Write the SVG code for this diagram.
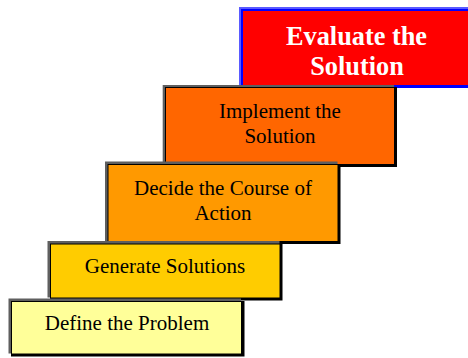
<svg xmlns="http://www.w3.org/2000/svg" width="468" height="358" viewBox="0 0 468 358">
  <style>
    .hl { fill: #5f5f5f; }
    .sh { fill: #000000; }
    .lbl { font-family: "Liberation Serif", "Times New Roman", serif; font-size: 21px; fill: #000000; text-anchor: middle; }
    .top-hl { fill: #5a5aff; }
    .top-sh { fill: #0000ff; }
    .top-lbl { font-family: "Liberation Serif", "Times New Roman", serif; font-size: 26.3px; font-weight: bold; fill: #ffffff; text-anchor: middle; }
  </style>
  <rect width="468" height="358" fill="#ffffff"/>

  <!-- top step, drawn first so the lower steps overlap its edge -->
  <g id="step-evaluate">
    <rect class="top-hl" x="239" y="7" width="232" height="78"/>
    <rect class="top-sh" x="241" y="9" width="232" height="79"/>
    <rect x="243" y="11" width="230" height="74" fill="#ff0000"/>
    <text class="top-lbl" x="356.5" y="45">Evaluate the</text>
    <text class="top-lbl" x="357" y="75">Solution</text>
  </g>

  <g id="step-implement">
    <rect class="hl" x="162.7" y="85" width="231.3" height="79"/>
    <rect class="sh" x="165" y="87" width="232" height="80"/>
    <rect x="166" y="88" width="228" height="76" fill="#ff6600"/>
    <text class="lbl" x="280" y="117.5">Implement the</text>
    <text class="lbl" x="280" y="142.5">Solution</text>
  </g>

  <g id="step-decide">
    <rect class="hl" x="105" y="161.5" width="232.5" height="79.5"/>
    <rect class="sh" x="107.5" y="164" width="233" height="80"/>
    <rect x="108.5" y="165" width="229" height="76" fill="#ff9900"/>
    <text class="lbl" x="223" y="195">Decide the Course of</text>
    <text class="lbl" x="223" y="219.5">Action</text>
  </g>

  <g id="step-generate">
    <rect class="hl" x="47.5" y="241" width="232" height="56.5"/>
    <rect class="sh" x="50" y="243.5" width="232.5" height="57"/>
    <rect x="51" y="244.5" width="228.5" height="53" fill="#ffcc00"/>
    <text class="lbl" x="165" y="272.7">Generate Solutions</text>
  </g>

  <g id="step-define">
    <rect class="hl" x="8.5" y="298.5" width="232.5" height="55"/>
    <rect class="sh" x="11" y="301" width="233.5" height="55.5"/>
    <rect x="12" y="302" width="229" height="51.5" fill="#ffff99"/>
    <text class="lbl" x="127" y="330">Define the Problem</text>
  </g>

  <g id="connectors"/>
</svg>
